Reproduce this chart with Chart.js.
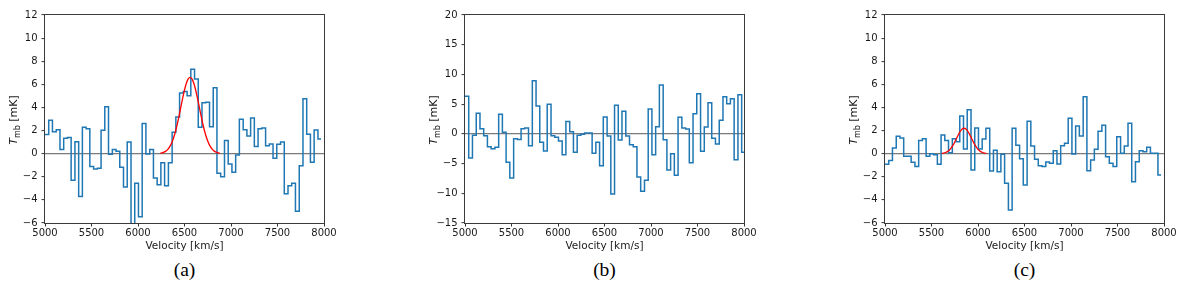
<!DOCTYPE html>
<html><head><meta charset="utf-8">
<script src="https://cdn.jsdelivr.net/npm/chart.js@4.4.1/dist/chart.umd.min.js"></script>
<style>
html,body{margin:0;padding:0;background:#fff;}
body{width:1200px;height:287px;position:relative;overflow:hidden;}
canvas{position:absolute;top:0;}
.sub{position:absolute;width:100px;text-align:center;font-family:'Liberation Serif','Times New Roman',serif;font-size:19.5px;line-height:24px;color:#000;top:258px;}
</style></head><body>
<canvas id="ca" width="360" height="253" style="left:0px"></canvas>
<canvas id="cb" width="360" height="253" style="left:420px"></canvas>
<canvas id="cc" width="360" height="253" style="left:840px"></canvas>
<div class="sub" style="left:134.5px">(a)</div>
<div class="sub" style="left:554.5px">(b)</div>
<div class="sub" style="left:974.5px">(c)</div>
<script>
// channel start velocities [km/s]
const velocity = [5000,5040,5080,5121,5161,5201,5241,5281,5322,5362,5402,5442,5482,5523,5563,5603,5643,5683,5724,5764,
  5804,5844,5884,5925,5965,6005,6045,6085,6126,6166,6206,6246,6286,6327,6367,6407,6447,6487,6528,6568,
  6608,6648,6688,6729,6769,6809,6849,6889,6930,6970,7010,7050,7090,7131,7171,7211,7251,7291,7332,7372,
  7412,7452,7492,7533,7573,7613,7653,7693,7734,7774,7814,7854,7894,7935,7975];

// panel (a) spectrum [mK]
const specA = [1.65,2.9,1.9,2.08,0.35,1.33,1.39,-2.3,1.04,-3.7,2.28,2.16,-1.1,-1.33,-1.27,2.02,4.07,-0.06,0.37,0.2,
  -1.18,-2.88,1.0,-6.8,-2.57,-5.45,2.6,-0.03,0.35,-2.1,-2.68,-0.78,-2.77,-0.78,1.85,3.17,5.25,5.37,5.02,7.3,
  6.46,2.28,4.41,4.44,2.34,5.71,-1.7,-1.99,1.13,-0.89,-1.61,-0.12,2.97,2.08,1.53,3.09,0.61,2.16,2.22,0.69,
  0.84,-0.4,0.81,1.0,-3.46,-2.77,-2.57,-4.99,-1.04,4.76,1.67,-0.75,2.05,1.27];
// panel (b) spectrum [mK]
const specB = [6.32,-4.06,-0.25,3.45,0.87,-0.31,-2.15,-2.49,-2.27,3.29,0.26,-4.79,-7.43,-0.81,-0.93,0.87,0.98,-1.99,8.95,4.69,
  -1.42,-2.88,4.97,-0.31,-0.59,-1.2,-3.5,2.1,0.37,-3.1,-0.25,-0.08,0.15,0.15,-3.28,-1.4,-5.35,2.84,-0.36,-10.1,
  4.8,-1.03,3.8,-0.36,-1.82,-2.15,-7.26,-9.67,-7.82,4.18,-3.5,1.21,8.22,-0.98,-6.08,-3.33,-6.98,2.78,0.99,0.82,
  -4.85,3.39,6.76,-2.94,1.15,5.25,-0.76,-1.7,2.28,6.26,5.08,5.92,-4.34,6.6,-3.1];
// panel (c) spectrum [mK]
const specC = [-0.92,-0.6,0.49,1.5,1.36,-0.23,-0.23,-0.75,-1.1,1.15,1.3,-0.23,0.0,-0.1,-0.92,1.62,1.15,0.09,1.3,1.04,
  3.26,0.4,3.81,-1.41,2.22,0.4,1.27,2.19,-1.5,0.3,-1.56,-0.06,-2.57,-4.87,2.19,0.72,-0.43,-2.71,2.8,0.66,
  -0.49,-1.04,-1.12,-0.72,-0.84,0.26,-0.89,0.69,0.9,3.06,-0.03,2.4,1.53,4.93,-1.47,-0.55,0.38,1.93,2.45,-0.26,
  -0.84,-1.12,1.47,0.03,0.66,2.63,-2.42,-0.69,0.26,0.17,0.55,0.03,0.03,-1.85];
// last channel end velocity per panel
const endA = 7968, endB = 8010, endC = 7968;

// Gaussian fit curves (sampled)
const fitAx = [6240,6260,6280,6300,6320,6340,6360,6380,6400,6420,6440,6460,6480,6500,6520,6540,6560,
  6580,6600,6620,6640,6660,6680,6700,6720,6740,6760,6780,6800,6820,6840,6860,6880];
const fitAy = [0.04,0.07,0.13,0.22,0.37,0.59,0.89,1.31,1.83,2.48,3.21,4.00,4.79,5.51,6.09,6.47,6.60,
  6.47,6.09,5.51,4.79,4.00,3.21,2.48,1.83,1.31,0.89,0.59,0.37,0.22,0.13,0.07,0.04];
const fitCx = [5610,5630,5650,5670,5690,5710,5730,5750,5770,5790,5810,5830,5850,
  5870,5890,5910,5930,5950,5970,5990,6010,6030,6050,6070,6090];
const fitCy = [0.02,0.05,0.10,0.18,0.30,0.48,0.71,1.01,1.33,1.66,1.94,2.13,2.20,
  2.13,1.94,1.66,1.33,1.01,0.71,0.48,0.30,0.18,0.10,0.05,0.02];

// tick settings
const xTickStep = 500;
const yRangeA = [-6, 12, 2], yRangeB = [-15, 20, 5], yRangeC = [-6, 12, 2];

const framePlugin = {
  id: 'frame',
  afterDatasetsDraw(chart) {
    const {ctx, chartArea: a} = chart;
    ctx.save();
    ctx.strokeStyle = '#3a3a3a';
    ctx.lineWidth = 1;
    ctx.strokeRect(Math.round(a.left) - 0.5, Math.round(a.top) - 0.5,
      Math.round(a.right - a.left) + 1, Math.round(a.bottom - a.top) + 1);
    ctx.restore();
  }
};
const ylabelPlugin = {
  id: 'ylab',
  afterDraw(chart) {
    const {ctx, chartArea: a} = chart;
    ctx.save();
    ctx.translate(13, (a.top + a.bottom) / 2 + 1);
    ctx.rotate(-Math.PI / 2);
    ctx.fillStyle = '#1a1a1a';
    ctx.textBaseline = 'alphabetic';
    const f1 = 'italic 11px "DejaVu Sans"', f2 = '8px "DejaVu Sans"', f3 = '11px "DejaVu Sans"';
    ctx.font = f1; const w1 = ctx.measureText('T').width;
    ctx.font = f2; const w2 = ctx.measureText('mb').width;
    ctx.font = f3; const w3 = ctx.measureText(' [mK]').width;
    let x = -(w1 + w2 + w3) / 2;
    const base = 4;
    ctx.font = f1; ctx.fillText('T', x, base); x += w1;
    ctx.font = f2; ctx.fillText('mb', x, base + 2.5); x += w2;
    ctx.font = f3; ctx.fillText(' [mK]', x, base);
    ctx.restore();
  }
};

function makeChart(id, vals, vEnd, yr, fitX, fitY) {
  const steps = vals.map((v, i) => ({x: velocity[i], y: v}));
  steps.push({x: vEnd, y: vals[vals.length - 1]});
  const datasets = [];
  if (fitX) {
    datasets.push({data: fitX.map((x, i) => ({x: x, y: fitY[i]})), borderColor: '#ff0000', borderWidth: 1.3,
      pointRadius: 0, cubicInterpolationMode: 'monotone', clip: 0, fill: false});
  }
  datasets.push({data: steps, stepped: 'before', borderColor: '#1f77b4', borderWidth: 1.5,
    pointRadius: 0, clip: 0, fill: false});
  const tickFont = {family: 'DejaVu Sans', size: 10};
  new Chart(document.getElementById(id), {
    type: 'line',
    data: {datasets},
    options: {
      responsive: false, animation: false, devicePixelRatio: 1,
      layout: {padding: {top: 15, right: 36, left: 0, bottom: 0}},
      plugins: {legend: {display: false}, tooltip: {enabled: false}},
      scales: {
        x: {
          type: 'linear', min: 5000, max: 8000,
          afterFit(s) { s.height = 30; },
          ticks: {stepSize: xTickStep, callback: v => String(v), font: tickFont, color: '#1a1a1a',
            padding: 1, maxRotation: 0, autoSkip: false},
          grid: {drawOnChartArea: false, drawTicks: true, tickLength: 3.5, tickColor: '#333', tickWidth: 1},
          border: {display: false},
          title: {display: true, text: 'Velocity [km/s]', font: {family: 'DejaVu Sans', size: 10.5},
            color: '#1a1a1a', padding: 0}
        },
        y: {
          type: 'linear', min: yr[0], max: yr[1],
          afterFit(s) { s.width = 45; },
          ticks: {stepSize: yr[2], callback: v => String(v).replace('-', '\u2212'), font: tickFont,
            color: '#1a1a1a', padding: 4, autoSkip: false},
          grid: {color: c => (c.tick && c.tick.value === 0) ? '#7a7a7a' : 'rgba(0,0,0,0)', lineWidth: 1.2,
            drawTicks: true, tickLength: 3.5, tickColor: '#333', tickWidth: 1},
          border: {display: false}
        }
      }
    },
    plugins: [framePlugin, ylabelPlugin]
  });
}

makeChart('ca', specA, endA, yRangeA, fitAx, fitAy);
makeChart('cb', specB, endB, yRangeB, null, null);
makeChart('cc', specC, endC, yRangeC, fitCx, fitCy);
</script>
</body></html>
